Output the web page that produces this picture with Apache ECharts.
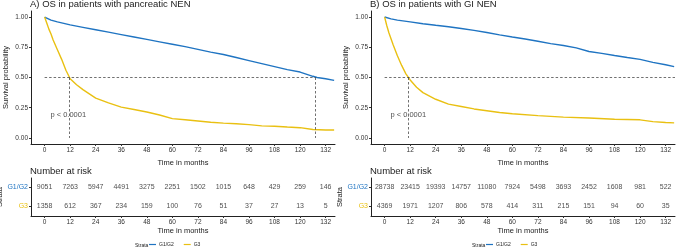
<!DOCTYPE html>
<html>
<head>
<meta charset="utf-8">
<script src="https://cdn.jsdelivr.net/npm/echarts@6/dist/echarts.min.js"></script>
<style>
  html, body { margin: 0; padding: 0; background: #fff; }
  #main { width: 677px; height: 252px; }
</style>
</head>
<body>
<div id="main"></div>
<script>
// tick positions and number at risk
const months = [0, 12, 24, 36, 48, 60, 72, 84, 96, 108, 120, 132];
const riskPanG12 = [9051, 7263, 5947, 4491, 3275, 2251, 1502, 1015, 648, 429, 259, 146];
const riskPanG3 = [1358, 612, 367, 234, 159, 100, 76, 51, 37, 27, 13, 5];
const riskGiG12 = [28738, 23415, 19393, 14757, 11080, 7924, 5498, 3693, 2452, 1608, 981, 522];
const riskGiG3 = [4369, 1971, 1207, 806, 578, 414, 311, 215, 151, 94, 60, 35];
const yTicks = [0, 0.25, 0.5, 0.75, 1];
const strata = ['G3', 'G1/G2'];

// survival curves
const panTimeG12 = [0, 3, 6, 12, 18, 24, 30, 36, 42, 48, 54, 60, 66, 72, 78, 84, 90, 96, 102, 108, 114, 120, 126, 128, 132, 136];
const panSurvG12 = [1, 0.975, 0.96, 0.935, 0.915, 0.895, 0.875, 0.855, 0.835, 0.815, 0.795, 0.775, 0.755, 0.733, 0.71, 0.69, 0.665, 0.64, 0.615, 0.59, 0.565, 0.545, 0.51, 0.5, 0.49, 0.476];
const panTimeG3 = [0, 1, 2, 3, 4, 6, 8, 10, 12, 15, 18, 24, 30, 36, 42, 48, 54, 60, 66, 72, 78, 84, 90, 96, 102, 108, 114, 120, 126, 132, 136];
const panSurvG3 = [1, 0.95, 0.9, 0.86, 0.81, 0.73, 0.65, 0.56, 0.49, 0.44, 0.4, 0.33, 0.29, 0.255, 0.235, 0.215, 0.19, 0.16, 0.15, 0.14, 0.13, 0.123, 0.118, 0.11, 0.1, 0.097, 0.09, 0.085, 0.07, 0.066, 0.066];
const giTimeG12 = [0, 3, 6, 12, 18, 24, 30, 36, 42, 48, 54, 60, 66, 72, 78, 84, 90, 96, 102, 108, 114, 120, 126, 132, 136];
const giSurvG12 = [1, 0.985, 0.975, 0.96, 0.945, 0.932, 0.92, 0.905, 0.89, 0.872, 0.853, 0.835, 0.818, 0.8, 0.78, 0.765, 0.745, 0.715, 0.7, 0.682, 0.665, 0.65, 0.625, 0.605, 0.59];
const giTimeG3 = [0, 1, 2, 3, 4, 6, 8, 10, 12, 15, 18, 24, 30, 36, 42, 48, 54, 60, 72, 84, 96, 108, 120, 126, 132, 136];
const giSurvG3 = [1, 0.93, 0.87, 0.82, 0.77, 0.68, 0.6, 0.53, 0.48, 0.42, 0.375, 0.32, 0.28, 0.26, 0.24, 0.225, 0.21, 0.2, 0.185, 0.172, 0.165, 0.155, 0.15, 0.135, 0.128, 0.125];

const panMedians = [11.4, 127.3];
const giMedians = [11.2];
const pvalPos = [2.5, 0.19];

const blue = '#1f74c2';
const yellow = '#e9c012';
const font = 'Liberation Sans, Arial, sans-serif';
const xMin = -6.4, xMax = 136.4;

const zip = (a, b) => a.map((v, i) => [v, b[i]]);

function medianLines(meds, hEnd) {
  const out = [[{ coord: [0, 0.5] }, { coord: [hEnd, 0.5] }]];
  meds.forEach(m => out.push([{ coord: [m, 0.5] }, { coord: [m, 0] }]));
  return out;
}

function survX(i) {
  return {
    gridIndex: i, type: 'value', min: xMin, max: xMax,
    name: 'Time in months', nameLocation: 'middle', nameGap: 10,
    nameTextStyle: { fontSize: 7.5, color: '#222', fontFamily: font },
    axisLine: { show: true, onZero: false, lineStyle: { color: '#222', width: 1 } },
    axisTick: { show: true, customValues: months, length: 2, lineStyle: { color: '#333' } },
    axisLabel: { customValues: months, fontSize: 6.5, color: '#333', margin: 3, fontFamily: font },
    splitLine: { show: false }
  };
}
function tableX(i) {
  const a = survX(i);
  a.nameGap = 9;
  return a;
}
function survY(i) {
  return {
    gridIndex: i, type: 'value', min: -0.05, max: 1.05,
    name: 'Survival probability', nameLocation: 'middle', nameGap: 21,
    nameTextStyle: { fontSize: 7.5, color: '#222', fontFamily: font },
    axisLine: { show: true, onZero: false, lineStyle: { color: '#222', width: 1 } },
    axisTick: { show: true, customValues: yTicks, length: 2, lineStyle: { color: '#333' } },
    axisLabel: { customValues: yTicks, fontSize: 6.5, color: '#333', margin: 3, fontFamily: font,
      formatter: v => v.toFixed(2) },
    splitLine: { show: false }
  };
}
function tableY(i) {
  return {
    gridIndex: i, type: 'category', data: strata,
    name: 'Strata', nameLocation: 'middle', nameGap: 23,
    nameTextStyle: { fontSize: 7.5, color: '#222', fontFamily: font },
    axisLine: { show: true, onZero: false, lineStyle: { color: '#222', width: 1 } },
    axisTick: { show: true, alignWithLabel: true, length: 2, lineStyle: { color: '#333' } },
    axisLabel: { fontSize: 7, margin: 3, fontFamily: font,
      formatter: v => (v === 'G3' ? '{y|' : '{b|') + v + '}',
      rich: { b: { color: blue, fontSize: 7, fontFamily: font }, y: { color: yellow, fontSize: 7, fontFamily: font } } },
    splitLine: { show: false }
  };
}

function curve(name, t, s, color, xi, extra) {
  return Object.assign({
    name: name, type: 'line', xAxisIndex: xi, yAxisIndex: xi,
    data: zip(t, s), showSymbol: false, symbol: 'none',
    lineStyle: { color: color, width: 1.4 }, itemStyle: { color: color },
    animation: false, z: 3
  }, extra || {});
}
function riskRow(name, counts, row, xi) {
  return {
    name: name, type: 'scatter', xAxisIndex: xi, yAxisIndex: xi,
    data: counts.map((n, i) => [months[i], row, n]),
    symbolSize: 1, itemStyle: { color: 'rgba(0,0,0,0)' },
    label: { show: true, position: 'inside', formatter: p => p.value[2], fontSize: 7, color: '#222', fontFamily: font },
    animation: false, silent: true
  };
}
function pval(xi) {
  return {
    name: 'pval' + xi, type: 'scatter', xAxisIndex: xi, yAxisIndex: xi,
    data: [pvalPos], symbolSize: 1, itemStyle: { color: 'rgba(0,0,0,0)' },
    label: { show: true, position: 'right', distance: 0, formatter: 'p < 0.0001', fontSize: 7.5, color: '#222', fontFamily: font },
    animation: false, silent: true
  };
}
const dashed = { color: '#333', type: [2.5, 2], width: 0.7 };
const titleStyle = size => ({ fontSize: size, fontWeight: 'normal', color: '#222', fontFamily: font });

const option = {
  backgroundColor: '#fff',
  textStyle: { fontFamily: font },
  title: [
    { text: 'A) OS in patients with pancreatic NEN', left: 30, top: -1, padding: 0, textStyle: titleStyle(9.5) },
    { text: 'B) OS in patients with GI NEN', left: 370, top: -1, padding: 0, textStyle: titleStyle(9.5) },
    { text: 'Number at risk', left: 30, top: 166, padding: 0, textStyle: titleStyle(9.5) },
    { text: 'Number at risk', left: 370, top: 166, padding: 0, textStyle: titleStyle(9.5) },
    { text: 'Strata', left: 135, top: 243, padding: 0, textStyle: titleStyle(5) },
    { text: 'Strata', left: 472, top: 243, padding: 0, textStyle: titleStyle(5) }
  ],
  legend: [
    { data: ['G1/G2', 'G3'], left: 149, top: 242, padding: 0, itemGap: 10, icon: 'rect', itemWidth: 7, itemHeight: 1.2,
      textStyle: { fontSize: 5, color: '#222', padding: [0, 0, 0, -2] } },
    { data: ['G1/G2', 'G3'], left: 486, top: 242, padding: 0, itemGap: 10, icon: 'rect', itemWidth: 7, itemHeight: 1.2,
      textStyle: { fontSize: 5, color: '#222', padding: [0, 0, 0, -2] } }
  ],
  grid: [
    { left: 31, top: 11, width: 304, height: 133, outerBoundsMode: 'none' },
    { left: 31, top: 178, width: 304, height: 38, outerBoundsMode: 'none' },
    { left: 371, top: 11, width: 304, height: 133, outerBoundsMode: 'none' },
    { left: 371, top: 178, width: 304, height: 38, outerBoundsMode: 'none' }
  ],
  xAxis: [survX(0), tableX(1), survX(2), tableX(3)],
  yAxis: [survY(0), tableY(1), survY(2), tableY(3)],
  series: [
    curve('G1/G2', panTimeG12, panSurvG12, blue, 0, {
      markLine: { silent: true, symbol: 'none', animation: false, label: { show: false }, lineStyle: dashed,
        data: medianLines(panMedians, panMedians[1]) }
    }),
    curve('G3', panTimeG3, panSurvG3, yellow, 0),
    curve('G1/G2', giTimeG12, giSurvG12, blue, 2, {
      markLine: { silent: true, symbol: 'none', animation: false, label: { show: false }, lineStyle: dashed,
        data: medianLines(giMedians, xMax) }
    }),
    curve('G3', giTimeG3, giSurvG3, yellow, 2),
    pval(0), pval(2),
    riskRow('riskA1', riskPanG12, 'G1/G2', 1),
    riskRow('riskA2', riskPanG3, 'G3', 1),
    riskRow('riskB1', riskGiG12, 'G1/G2', 3),
    riskRow('riskB2', riskGiG3, 'G3', 3)
  ]
};

echarts.init(document.getElementById('main')).setOption(option);
</script>
</body>
</html>
